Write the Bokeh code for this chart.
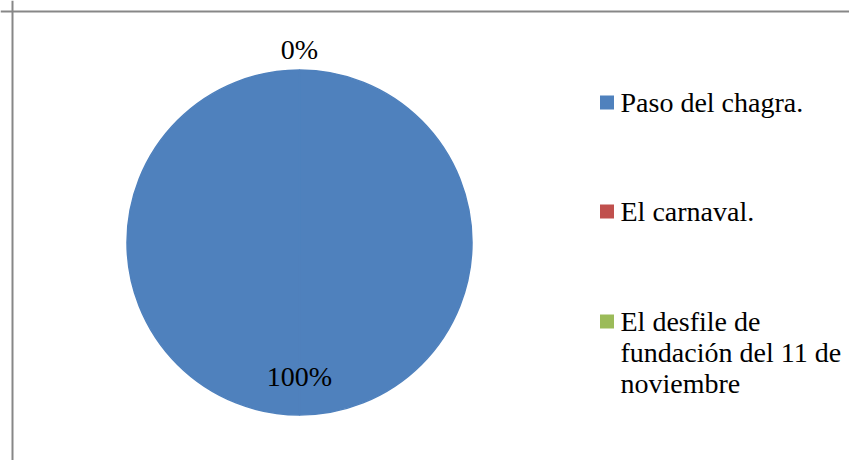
import math
from bokeh.plotting import figure
from bokeh.models import ColumnDataSource, Span
from bokeh.core.properties import value
from bokeh.embed import file_html
from bokeh.resources import INLINE

categories = ["Paso del chagra.", "El carnaval.", "El desfile de fundación del 11 de noviembre"]
legend_lines = [["Paso del chagra."], ["El carnaval."], ["El desfile de", "fundación del 11 de", "noviembre"]]
values = [100, 0, 0]
colors = ["#4F81BD", "#C0504D", "#9BBB59"]

W, H = 849, 460
FONT = "'Liberation Serif'"

p = figure(width=W, height=H, x_range=(0, W), y_range=(0, H),
           output_backend="svg", toolbar_location=None,
           min_border=0, outline_line_color=None)
p.axis.visible = False
p.grid.visible = False
p.background_fill_color = "white"
p.border_fill_color = "white"

# chart frame (left and top edges visible)
p.add_layout(Span(location=12, dimension="height", line_color="#878787", line_width=2))
p.add_layout(Span(location=H - 11, dimension="width", line_color="#878787", line_width=2))

cx, cy, r = 299, H - 242, 172.5
total = sum(values)
ws, we, wc = [], [], []
mids = []
acc = 0.0
for v, c in zip(values, colors):
    a0 = math.pi / 2 - 2 * math.pi * acc / total
    acc += v
    a1 = math.pi / 2 - 2 * math.pi * acc / total
    m = (a0 + a1) / 2
    mids.append(m)
    if v > 0:
        # each slice drawn as two halves so that a 100% slice renders
        ws += [a0, m]; we += [m, a1]; wc += [c, c]

src = ColumnDataSource(dict(start=ws, end=we, color=wc))
p.wedge(x=cx, y=cy, radius=r, start_angle="start", end_angle="end",
        direction="clock", fill_color="color", line_color="color", line_width=1.5,
        source=src)

# percentage labels
lx, ly, lt = [], [], []
seen = set()
for v, m in zip(values, mids):
    pct = f"{round(100 * v / total)}%"
    rr = 0.775 * r if v > 0 else r + 21
    x = cx + rr * math.cos(m)
    y = cy + rr * math.sin(m)
    key = (round(x), round(y), pct)
    if key in seen:
        continue
    seen.add(key)
    lx.append(x); ly.append(y); lt.append(pct)
p.text(x=lx, y=ly, text=lt, text_font=value(FONT), text_font_size="28px",
       text_color="#000000", text_align="center", text_baseline="middle")

# legend
sq_x = 606.5
entry_y = [H - 102, H - 211, H - 321]
line_h = 31
p.rect(x=[sq_x] * 3, y=entry_y, width=14, height=14, fill_color=colors, line_color=None)
tx, ty, tt = [], [], []
for ey, lines in zip(entry_y, legend_lines):
    for i, ln in enumerate(lines):
        tx.append(sq_x + 13.5)
        ty.append(ey - i * line_h)
        tt.append(ln)
p.text(x=tx, y=ty, text=tt, text_font=value(FONT), text_font_size="28px",
       text_color="#000000", text_align="left", text_baseline="middle")

open("out.html", "w").write(file_html(p, INLINE))
